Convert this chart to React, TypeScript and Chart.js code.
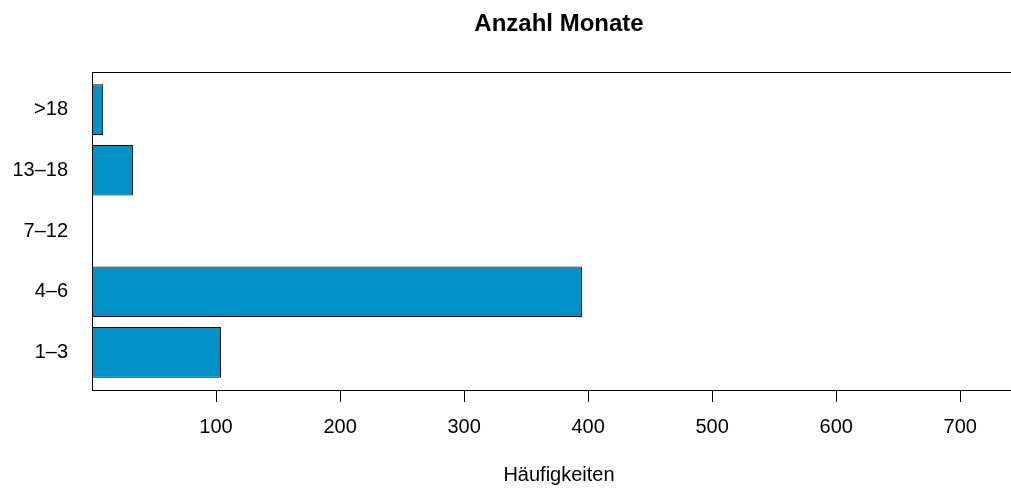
import React, { useEffect, useRef } from "react";
import { Chart, registerables } from "chart.js";

Chart.register(...registerables);

const categories = ["1–3", "4–6", "7–12", "13–18", ">18"];
const counts = [104, 395, 1, 33, 9];
const xTicks = [100, 200, 300, 400, 500, 600, 700];
const titleText = "Anzahl Monate";
const xLabel = "Häufigkeiten";

const FONT = "'Liberation Sans', Arial, Helvetica, sans-serif";

const framePlugin = {
  id: "frame",
  afterDatasetsDraw(chart: any) {
    const { ctx, chartArea } = chart;
    ctx.save();
    ctx.strokeStyle = "#000";
    ctx.lineWidth = 1;
    ctx.strokeRect(
      Math.round(chartArea.left) + 0.5,
      Math.round(chartArea.top) + 0.5,
      Math.round(chartArea.right - chartArea.left),
      Math.round(chartArea.bottom - chartArea.top)
    );
    ctx.restore();
  },
};

export default function App() {
  const ref = useRef<HTMLCanvasElement | null>(null);

  useEffect(() => {
    if (!ref.current) return;
    const chart = new Chart(ref.current, {
      type: "bar",
      data: {
        datasets: [
          {
            data: counts.map((v, i) => ({ x: v, y: i })),
            backgroundColor: "#0091C7",
            borderColor: "#000000",
            borderWidth: 1,
            borderSkipped: false,
            barPercentage: 0.833,
            categoryPercentage: 1,
          },
        ],
      },
      options: {
        indexAxis: "y",
        animation: false,
        responsive: false,
        maintainAspectRatio: false,
        layout: { padding: { top: 0, left: 0, right: 4, bottom: 0 } },
        plugins: {
          legend: { display: false },
          tooltip: { enabled: false },
          title: {
            display: true,
            text: titleText,
            fullSize: false,
            color: "#000",
            font: { family: FONT, size: 24, weight: "bold" },
            padding: { top: 10, bottom: 33.2 },
          },
        },
        scales: {
          x: {
            type: "linear",
            position: "bottom",
            min: 0,
            max: 753,
            offset: false,
            afterBuildTicks: (scale: any) => {
              scale.ticks = xTicks.map((v) => ({ value: v }));
            },
            afterFit: (scale: any) => {
              scale.height = 98;
            },
            grid: {
              display: true,
              offset: false,
              drawOnChartArea: false,
              drawTicks: true,
              tickLength: 12,
              color: "#000",
              lineWidth: 1,
            },
            border: { display: false },
            ticks: {
              color: "#000",
              font: { family: FONT, size: 20 },
              padding: 13,
              maxRotation: 0,
              autoSkip: false,
            },
            title: {
              display: true,
              text: xLabel,
              color: "#000",
              font: { family: FONT, size: 20 },
              padding: { top: 0, bottom: 1 },
            },
          },
          y: {
            type: "linear",
            position: "left",
            min: -0.62,
            max: 4.62,
            offset: false,
            afterBuildTicks: (scale: any) => {
              scale.ticks = categories.map((_, i) => ({ value: i }));
            },
            afterFit: (scale: any) => {
              scale.width = 92;
            },
            grid: { display: false, drawTicks: false, offset: false },
            border: { display: false },
            ticks: {
              color: "#000",
              font: { family: FONT, size: 20 },
              padding: 24,
              autoSkip: false,
              callback: (value: any) => categories[Math.round(Number(value))] ?? "",
            },
          },
        },
      },
      plugins: [framePlugin],
    } as any);
    return () => chart.destroy();
  }, []);

  return (
    <div
      style={{
        position: "fixed",
        left: 0,
        top: 0,
        width: 1011,
        height: 488,
        overflow: "hidden",
        background: "#fff",
      }}
    >
      <canvas ref={ref} width={1030} height={488} style={{ display: "block", width: 1030, height: 488 }} />
    </div>
  );
}
